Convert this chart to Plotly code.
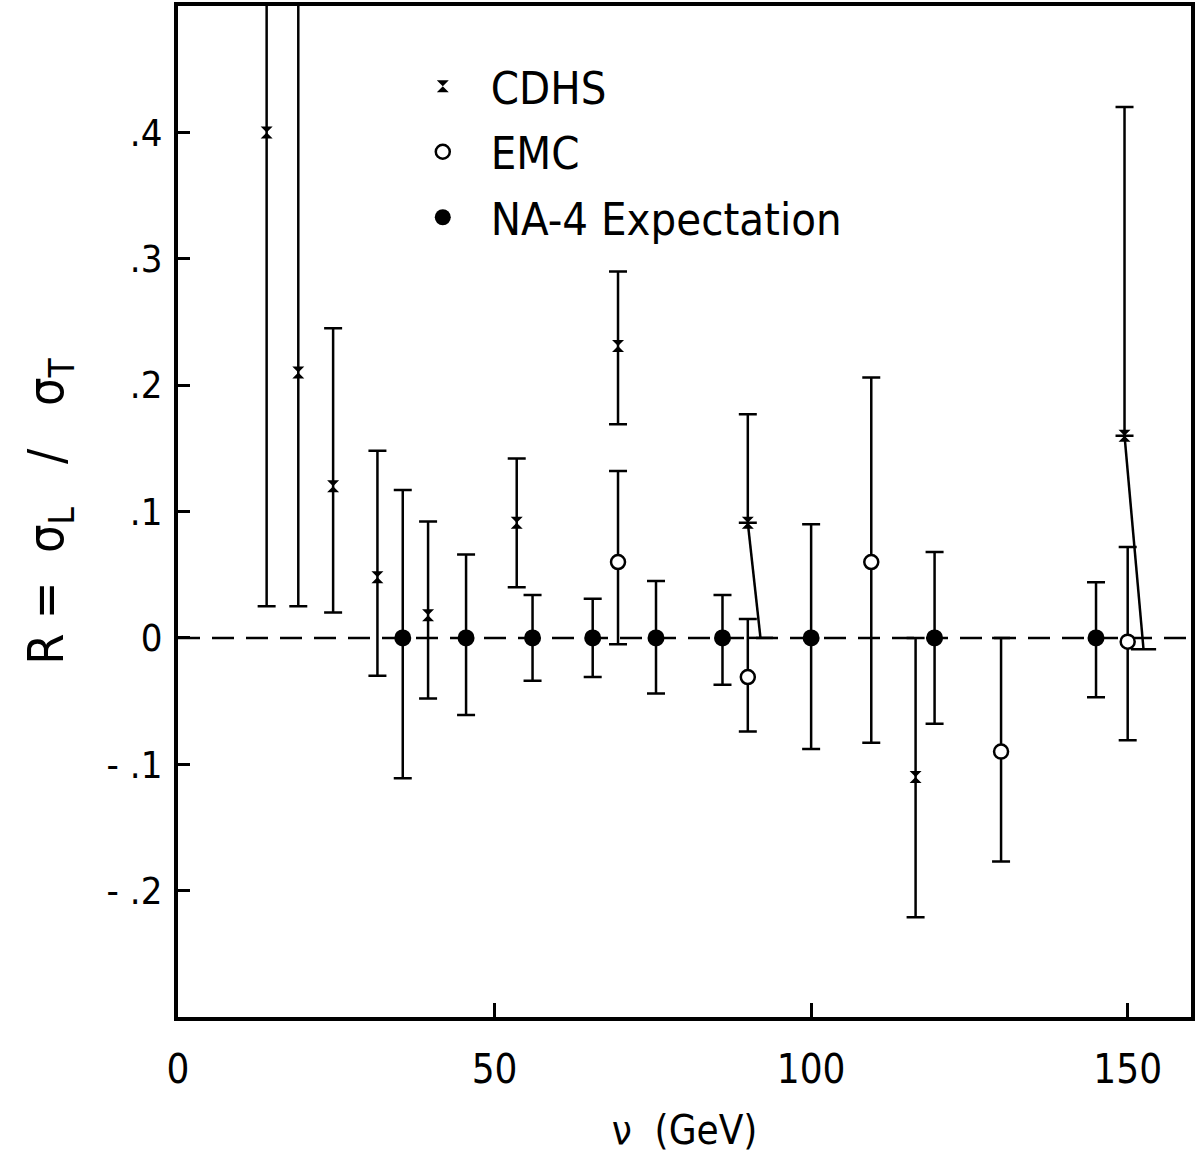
import plotly.graph_objects as go

# ---------------- data ----------------
cdhs_nu = [14, 19, 24.5, 31.5, 39.5, 53.5, 69.5, 90, 116.5, 149.5]
cdhs_R = [0.40, 0.21, 0.12, 0.048, 0.018, 0.091, 0.231, 0.091, -0.11, 0.16]
cdhs_hi = [0.60, 0.60, 0.245, 0.148, 0.092, 0.142, 0.29, 0.177, 0.0, 0.42]
cdhs_lo = [0.025, 0.025, 0.02, -0.03, -0.048, 0.04, 0.169, 0.0, -0.221, -0.009]

emc_nu = [69.5, 90, 109.5, 130, 150]
emc_R = [0.06, -0.031, 0.06, -0.09, -0.003]
emc_hi = [0.132, 0.015, 0.206, 0.0, 0.072]
emc_lo = [-0.005, -0.074, -0.083, -0.177, -0.081]

na4_nu = [35.5, 45.5, 56, 65.5, 75.5, 86, 100, 119.5, 145]
na4_R = [0, 0, 0, 0, 0, 0, 0, 0, 0]
na4_hi = [0.117, 0.066, 0.034, 0.031, 0.045, 0.034, 0.09, 0.068, 0.044]
na4_lo = [-0.111, -0.061, -0.034, -0.031, -0.044, -0.037, -0.088, -0.068, -0.047]

x_ticks = [0, 50, 100, 150]
y_ticks = [-0.2, -0.1, 0, 0.1, 0.2, 0.3, 0.4]
y_ticklabels = ["- .2", "- .1", "0", ".1", ".2", ".3", ".4"]

# display-only: lower CDHS bars drawn displaced sideways (GeV) to avoid overlap
cdhs_lower_shift = [0, 0, 0, 0, 0, 0, 0, 2.0, 0, 3.0]

FONT = "Liberation Sans Narrow, DejaVu Sans Condensed, DejaVu Sans, sans-serif"
BLACK = "black"
CAP = 9
LW = 2.5

fig = go.Figure()

# zero reference line
fig.add_hline(y=0, line=dict(color=BLACK, width=2.5, dash="22px,12px"), layer="below")

# CDHS: vertical bars where not displaced
c_plus = [h - r for h, r in zip(cdhs_hi, cdhs_R)]
c_minus = [(r - l) if s == 0 else 0 for r, l, s in zip(cdhs_R, cdhs_lo, cdhs_lower_shift)]
fig.add_trace(go.Scatter(
    x=cdhs_nu, y=cdhs_R, mode="markers", name="CDHS", legendgroup="a",
    marker=dict(symbol="hourglass", size=12, color=BLACK),
    error_y=dict(type="data", symmetric=False, array=c_plus, arrayminus=c_minus,
                 color=BLACK, thickness=LW, width=CAP),
))
# displaced lower bars (slanted) for CDHS
for nu, r, lo, s in zip(cdhs_nu, cdhs_R, cdhs_lo, cdhs_lower_shift):
    if s:
        fig.add_trace(go.Scatter(x=[nu, nu + s], y=[r, lo], mode="lines",
                                 line=dict(color=BLACK, width=LW), showlegend=False,
                                 hoverinfo="skip"))
        fig.add_trace(go.Scatter(x=[nu + s], y=[lo], mode="markers", showlegend=False,
                                 marker=dict(symbol="line-ew", size=2 * CAP,
                                             line=dict(color=BLACK, width=LW)),
                                 hoverinfo="skip"))

# EMC
fig.add_trace(go.Scatter(
    x=emc_nu, y=emc_R, mode="markers", name="EMC", legendgroup="b",
    marker=dict(symbol="circle", size=14, color="white", line=dict(color=BLACK, width=2.5)),
    error_y=dict(type="data", symmetric=False,
                 array=[h - r for h, r in zip(emc_hi, emc_R)],
                 arrayminus=[r - l for r, l in zip(emc_R, emc_lo)],
                 color=BLACK, thickness=LW, width=CAP),
))

# NA-4 expectation
fig.add_trace(go.Scatter(
    x=na4_nu, y=na4_R, mode="markers", name="NA-4 Expectation", legendgroup="c",
    marker=dict(symbol="circle", size=17, color=BLACK),
    error_y=dict(type="data", symmetric=False,
                 array=[h - r for h, r in zip(na4_hi, na4_R)],
                 arrayminus=[r - l for r, l in zip(na4_R, na4_lo)],
                 color=BLACK, thickness=LW, width=CAP),
))

fig.update_layout(
    width=1195, height=1154,
    margin=dict(l=178, r=4, t=6, b=137),
    paper_bgcolor="white", plot_bgcolor="white",
    font=dict(family=FONT, color=BLACK, size=36),
    showlegend=True,
    legend=dict(x=0.214, y=0.956, xanchor="left", yanchor="top",
                bgcolor="rgba(0,0,0,0)", font=dict(size=45, family=FONT),
                tracegroupgap=4, itemwidth=86),
    xaxis=dict(range=[0, 160], tickvals=x_ticks, ticktext=[str(t) for t in x_ticks],
               ticks="inside", ticklen=14, tickwidth=2.5, tickcolor=BLACK,
               showline=True, linecolor=BLACK, linewidth=4, mirror=True,
               showgrid=False, zeroline=False, automargin=False,
               tickfont=dict(size=40), ticklabelstandoff=14,
               title=dict(text="ν  (GeV)", font=dict(size=40), standoff=26)),
    yaxis=dict(range=[-0.3, 0.5], tickvals=y_ticks, ticktext=y_ticklabels,
               ticks="inside", ticklen=12, tickwidth=2.5, tickcolor=BLACK,
               showline=True, linecolor=BLACK, linewidth=4, mirror=True,
               showgrid=False, zeroline=False, automargin=False,
               tickfont=dict(size=38), ticklabelstandoff=4,
               title=dict(text="R =  σ<sub>L</sub>   /   σ<sub>T</sub>", font=dict(size=50), standoff=28)),
)

fig.write_html("out.html", post_script="document.body.style.margin='0';",
               config={"displayModeBar": False})
